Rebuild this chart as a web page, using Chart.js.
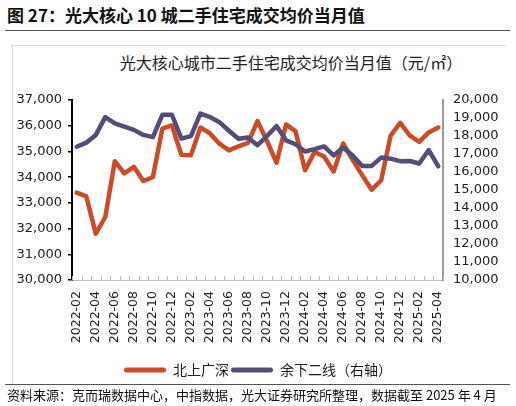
<!DOCTYPE html>
<html><head><meta charset="utf-8">
<script src="https://cdn.jsdelivr.net/npm/chart.js@4/dist/chart.umd.min.js"></script>
<style>
html,body{margin:0;padding:0;background:#fff;width:516px;height:406px;overflow:hidden;}
#wrap{position:relative;width:516px;height:406px;}
#fig{position:absolute;left:7px;top:2px;font:bold 17px "Noto Sans CJK SC";color:#111;white-space:nowrap;}
#rule1{position:absolute;left:5px;top:30px;width:505px;height:0;border-top:1.5px solid #555;}
#boxtop{position:absolute;left:12px;top:45px;width:494px;height:0;border-top:1px solid #dcdcdc;}
#boxleft{position:absolute;left:12px;top:45px;width:0;height:340px;border-left:1px solid #dcdcdc;}
#rule2{position:absolute;left:5px;top:384px;width:505px;height:0;border-top:1.5px solid #555;}
#src{position:absolute;left:7px;top:385px;font:13px "Noto Sans CJK SC";color:#111;white-space:nowrap;}
#ctitle{position:absolute;left:0;width:582px;text-align:center;top:50px;font:16px "Noto Sans CJK SC";color:#222;white-space:nowrap;}
#c{position:absolute;left:0;top:0;}
</style></head>
<body><div id="wrap">
<div id="fig">图 27：光大核心 10 城二手住宅成交均价当月值</div>
<div id="rule1"></div>
<div id="boxtop"></div><div id="boxleft"></div>
<div id="ctitle">光大核心城市二手住宅成交均价当月值（元/㎡）</div>
<canvas id="c" width="516" height="406"></canvas>
<div id="rule2"></div>
<div id="src">资料来源：克而瑞数据中心，中指数据，光大证券研究所整理，数据截至 2025 年 4 月</div>
</div>
<script>
const months = [
 "2022-02","2022-03","2022-04","2022-05","2022-06","2022-07","2022-08","2022-09","2022-10","2022-11","2022-12",
 "2023-01","2023-02","2023-03","2023-04","2023-05","2023-06","2023-07","2023-08","2023-09","2023-10","2023-11","2023-12",
 "2024-01","2024-02","2024-03","2024-04","2024-05","2024-06","2024-07","2024-08","2024-09","2024-10","2024-11","2024-12",
 "2025-01","2025-02","2025-03","2025-04"];
const tier1 = [33400,33250,31800,32450,34620,34150,34400,33850,34000,35890,36010,
 34870,34850,35930,35700,35300,35040,35200,35330,36180,35400,34560,36050,
 35780,34270,34980,34800,34220,35310,34670,34080,33510,33880,35620,36110,
 35620,35370,35740,35930];
const tier2 = [17400,17630,18060,19050,18700,18520,18340,18060,17940,19180,19180,
 17850,17990,19250,19050,18770,18290,17850,17920,17490,18000,18550,17760,
 17540,17140,17270,17420,16920,17360,16920,16340,16340,16800,16740,16600,
 16610,16470,17220,16320];
const leftTicks = [30000,31000,32000,33000,34000,35000,36000,37000];
const rightTicks = [10000,11000,12000,13000,14000,15000,16000,17000,18000,19000,20000];
const seriesNames = ["北上广深","余下二线（右轴）"];
const RED = "#CC4A27", BLUE = "#524E76";

const numFont = {family:"DejaVu Sans", size:13};
const fmt = v => Number(v).toLocaleString("en-US");

const innerTicks = {
  id:"innerTicks",
  beforeDatasetsDraw(chart){
    const x = chart.scales.x, ctx = chart.ctx;
    const n = months.length;
    const step = (x.getPixelForValue(n-1) - x.getPixelForValue(0))/(n-1);
    ctx.save();
    ctx.strokeStyle = "#b8b8b8"; ctx.lineWidth = 1;
    ctx.beginPath();
    for(let i=0;i<=n;i++){
      const px = Math.round(x.getPixelForValue(0) - step/2 + i*step) + 0.5;
      ctx.moveTo(px, x.top); ctx.lineTo(px, x.top-4);
    }
    ctx.stroke(); ctx.restore();
  }
};

new Chart(document.getElementById("c"), {
  type:"line",
  data:{
    labels: months,
    datasets:[
      {label:seriesNames[0], data:tier1, yAxisID:"y", borderColor:RED, backgroundColor:RED,
       borderWidth:4.5, pointRadius:0, tension:0, borderJoinStyle:"round", borderCapStyle:"round", order:1},
      {label:seriesNames[1], data:tier2, yAxisID:"y1", borderColor:BLUE, backgroundColor:BLUE,
       borderWidth:4.5, pointRadius:0, tension:0, borderJoinStyle:"round", borderCapStyle:"round", order:0}
    ]
  },
  options:{
    responsive:false, animation:false, locale:"en-US",
    layout:{padding:{top:100, bottom:19, left:0, right:0}},
    plugins:{
      title:{display:false},
      tooltip:{enabled:false},
      legend:{
        position:"bottom",
        labels:{
          boxWidth:42, boxHeight:5, padding:2, color:"#222",
          font:{family:"Noto Sans CJK SC", size:14},
          sort:(a,b)=>a.datasetIndex-b.datasetIndex,
          generateLabels:(chart)=>Chart.defaults.plugins.legend.labels.generateLabels(chart)
            .map(l=>Object.assign(l,{lineWidth:0, borderRadius:2.5}))
        }
      }
    },
    scales:{
      x:{
        type:"category", offset:true,
        grid:{drawOnChartArea:false, drawTicks:false},
        border:{color:"#bdbdbd", width:1},
        ticks:{autoSkip:false, minRotation:90, maxRotation:90, padding:11, color:"#222",
          font:{family:"DejaVu Sans", size:12.5},
          callback:(v,i)=> i%2===0 ? months[i] : ""},
        afterFit:s=>{s.height = 81;}
      },
      y:{
        position:"left",
        min:leftTicks[0], max:leftTicks[leftTicks.length-1],
        grid:{drawOnChartArea:false, drawTicks:true, tickLength:4, color:"#000", lineWidth:1.5},
        border:{color:"#000", width:2},
        ticks:{autoSkip:false, stepSize:leftTicks[1]-leftTicks[0], padding:6, color:"#222", font:numFont, callback:fmt},
        afterFit:s=>{s.width = 72;}
      },
      y1:{
        position:"right",
        min:rightTicks[0], max:rightTicks[rightTicks.length-1],
        grid:{drawOnChartArea:false, drawTicks:false},
        border:{color:"#9a9a9a", width:2},
        ticks:{autoSkip:false, stepSize:rightTicks[1]-rightTicks[0], padding:10, color:"#222", font:numFont, callback:fmt},
        afterFit:s=>{s.width = 73;}
      }
    }
  },
  plugins:[innerTicks]
});
</script>
</body></html>
